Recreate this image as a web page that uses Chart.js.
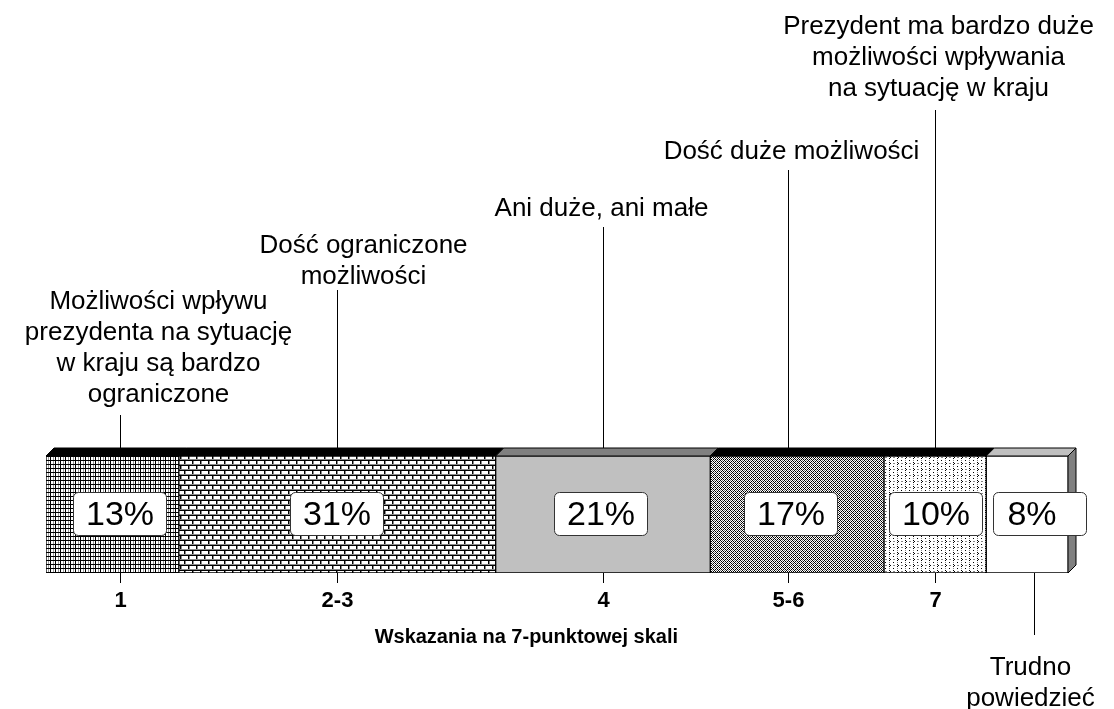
<!DOCTYPE html>
<html>
<head>
<meta charset="utf-8">
<script src="https://cdn.jsdelivr.net/npm/chart.js@4/dist/chart.umd.min.js"></script>
<style>
  html, body { margin: 0; padding: 0; background: #fff; }
  #chart { display: block; }
</style>
</head>
<body>
<canvas id="chart" width="1114" height="709"></canvas>
<script>
// Data
const categories = ['1', '2-3', '4', '5-6', '7', ''];
const shares = [13, 31, 21, 17, 10, 8];
const answerLabels = [
    ['Możliwości wpływu', 'prezydenta na sytuację', 'w kraju są bardzo', 'ograniczone'],
    ['Dość ograniczone', 'możliwości'],
    ['Ani duże, ani małe'],
    ['Dość duże możliwości'],
    ['Prezydent ma bardzo duże', 'możliwości wpływania', 'na sytuację w kraju'],
    ['Trudno', 'powiedzieć']
];
const axisTitle = 'Wskazania na 7-punktowej skali';

const FONT = '"Liberation Sans", Arial, sans-serif';

// Small fill patterns, similar to the old office hatches
function makePattern(w, h, draw) {
    const c = document.createElement('canvas');
    c.width = w;
    c.height = h;
    const g = c.getContext('2d');
    g.fillStyle = '#fff';
    g.fillRect(0, 0, w, h);
    draw(g);
    return g.createPattern(c, 'repeat');
}

function px(g, color, pts) {
    g.fillStyle = color;
    pts.forEach(p => g.fillRect(p[0], p[1], p[2] || 1, p[3] || 1));
}

const fills = [
    // fine grid
    makePattern(5, 4, g => {
        px(g, '#999', [[3, 0, 1, 4]]);
        px(g, '#000', [[0, 0, 1, 4], [0, 0, 5, 1]]);
    }),
    // bricks
    makePattern(8, 10, g => {
        px(g, '#000', [[0, 0, 8, 1], [0, 5, 8, 1], [0, 1, 1, 4], [4, 6, 1, 4]]);
        px(g, '#888', [[1, 1, 1, 4], [5, 6, 1, 4], [0, 4, 8, 1], [0, 9, 8, 1]]);
    }),
    '#c0c0c0',
    // lattice of small circles
    makePattern(4, 4, g => {
        px(g, '#000', [[0, 0], [1, 1], [3, 1], [2, 2], [1, 3], [3, 3]]);
        px(g, '#777', [[2, 0], [0, 2]]);
    }),
    // sparse dots
    makePattern(8, 6, g => {
        px(g, '#000', [[1, 0], [2, 1], [1, 2], [5, 4]]);
        px(g, '#888', [[5, 1, 2, 1], [1, 4, 1, 1]]);
    }),
    '#ffffff'
];
const topColors = ['#000', '#000', '#808080', '#000', '#000', '#c0c0c0'];

// Layout for annotations (pixels)
const DEPTH = 8;
const leaderShift = [8, 0, 0, -9, 0, 7];
const textShift = [38, 26, -2, 3, 3, -4];
const textTop = [302, 246, 209, 152, 27, 668];
const leaderTop = [415, 290, 227, 170, 110];
const boxShift = [7, -1, -2, -7, 0, 12];
const boxTextShift = [0, 0, 0, 0, 0, -8];

const decorPlugin = {
    id: 'decor',
    beforeDatasetsDraw(chart) {
        const ctx = chart.ctx;
        const n = chart.data.datasets.length;
        ctx.save();
        for (let i = 0; i < n; i++) {
            const el = chart.getDatasetMeta(i).data[0];
            const p = el.getProps(['x', 'base', 'y', 'height'], true);
            const top = p.y - p.height / 2;
            const bottom = p.y + p.height / 2;
            ctx.beginPath();
            ctx.moveTo(p.base, top);
            ctx.lineTo(p.base + DEPTH, top - DEPTH);
            ctx.lineTo(p.x + DEPTH, top - DEPTH);
            ctx.lineTo(p.x, top);
            ctx.closePath();
            ctx.fillStyle = topColors[i];
            ctx.fill();
            ctx.strokeStyle = '#000';
            ctx.lineWidth = 1;
            ctx.stroke();
            if (i === n - 1) {
                ctx.beginPath();
                ctx.moveTo(p.x, top);
                ctx.lineTo(p.x + DEPTH, top - DEPTH);
                ctx.lineTo(p.x + DEPTH, bottom - DEPTH);
                ctx.lineTo(p.x, bottom);
                ctx.closePath();
                ctx.fillStyle = '#808080';
                ctx.fill();
                ctx.stroke();
            }
        }
        ctx.restore();
    },
    afterDatasetsDraw(chart) {
        const ctx = chart.ctx;
        const xs = chart.scales.x;
        ctx.save();
        chart.data.datasets.forEach((ds, i) => {
            const el = chart.getDatasetMeta(i).data[0];
            const p = el.getProps(['x', 'base', 'y', 'height'], true);
            const top = p.y - p.height / 2;
            const bottom = p.y + p.height / 2;
            const mid = (p.x + p.base) / 2;
            const lx = Math.round(mid + leaderShift[i]) + 0.5;

            // leader line and answer label
            ctx.strokeStyle = '#000';
            ctx.lineWidth = 1;
            ctx.beginPath();
            if (i < leaderTop.length) {
                ctx.moveTo(lx, leaderTop[i]);
                ctx.lineTo(lx, top - DEPTH);
            } else {
                ctx.moveTo(lx, bottom);
                ctx.lineTo(lx, bottom + 62);
            }
            ctx.stroke();

            ctx.fillStyle = '#000';
            ctx.font = '26px ' + FONT;
            ctx.textAlign = 'center';
            ctx.textBaseline = 'middle';
            answerLabels[i].forEach((line, k) => {
                ctx.fillText(line, lx + textShift[i], textTop[i] + k * 31);
            });

            // tick marks and category labels under the bar
            if (categories[i]) {
                ctx.beginPath();
                ctx.moveTo(lx, bottom);
                ctx.lineTo(lx, bottom + 10);
                ctx.stroke();
                ctx.font = 'bold 22px ' + FONT;
                ctx.fillText(categories[i], lx, bottom + 28);
            }

            // value box
            const bw = 93, bh = 43;
            const bx = Math.round(mid + boxShift[i] - bw / 2) + 0.5;
            const by = Math.round(p.y - bh / 2 - 1) + 0.5;
            ctx.beginPath();
            ctx.roundRect(bx, by, bw, bh, 5);
            ctx.fillStyle = '#fff';
            ctx.fill();
            ctx.strokeStyle = '#333';
            ctx.stroke();
            ctx.fillStyle = '#000';
            ctx.font = '34px ' + FONT;
            ctx.fillText(ds.data[0] + '%', bx + bw / 2 + boxTextShift[i], p.y + 1);
        });

        // axis title
        ctx.font = 'bold 20px ' + FONT;
        ctx.fillText(axisTitle, xs.getPixelForValue(47), 637);
        ctx.restore();
    }
};

new Chart(document.getElementById('chart').getContext('2d'), {
    type: 'bar',
    data: {
        labels: [''],
        datasets: shares.map((v, i) => ({
            label: categories[i] || 'Trudno powiedzieć',
            data: [v],
            backgroundColor: fills[i],
            borderColor: '#000',
            borderWidth: 1,
            borderSkipped: false
        }))
    },
    options: {
        indexAxis: 'y',
        responsive: false,
        animation: false,
        layout: { padding: { left: 46, right: 46, top: 456, bottom: 136 } },
        datasets: { bar: { barPercentage: 1, categoryPercentage: 1 } },
        plugins: {
            legend: { display: false },
            tooltip: { enabled: false }
        },
        scales: {
            x: { stacked: true, min: 0, max: 100, display: false },
            y: { stacked: true, display: false }
        }
    },
    plugins: [decorPlugin]
});
</script>
</body>
</html>
